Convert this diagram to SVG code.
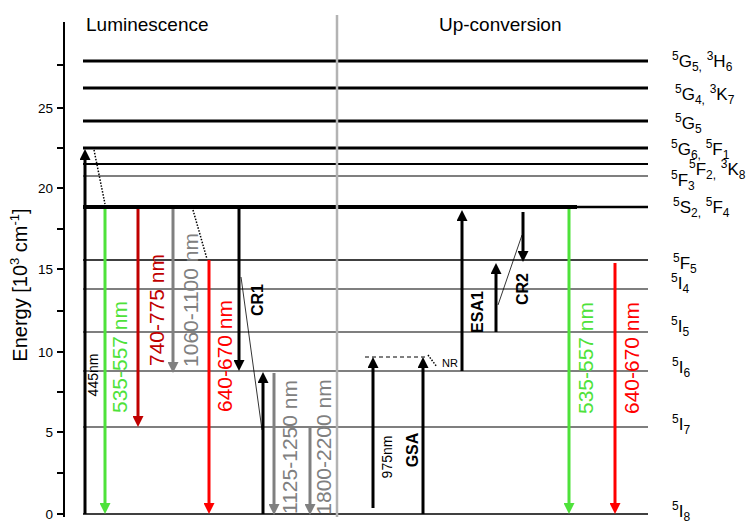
<svg xmlns="http://www.w3.org/2000/svg" width="751" height="525" viewBox="0 0 751 525">
<style>
text{font-family:"Liberation Sans",Arial,sans-serif;}
.lv{stroke:#000;fill:none}
.ax{stroke:#000;stroke-width:2;fill:none}
.tk{font-size:13.5px;text-anchor:end;fill:#000}
.st{font-size:17px;fill:#000}
.sm{font-size:12px}
.rl{font-size:21px;text-anchor:middle}
.bl{font-size:16px;font-weight:bold;text-anchor:middle;fill:#000}
.nm{font-size:14px;text-anchor:middle;fill:#000}
.ar{stroke-width:3;fill:none}
</style>
<defs>
<marker id="hk" markerUnits="userSpaceOnUse" markerWidth="11" markerHeight="11" refX="4" refY="5.5" orient="auto"><path d="M0,0 L11,5.5 L0,11 z" fill="#000"/></marker>
<marker id="hg" markerUnits="userSpaceOnUse" markerWidth="11" markerHeight="11" refX="4" refY="5.5" orient="auto"><path d="M0,0 L11,5.5 L0,11 z" fill="#4ee23a"/></marker>
<marker id="hr" markerUnits="userSpaceOnUse" markerWidth="11" markerHeight="11" refX="4" refY="5.5" orient="auto"><path d="M0,0 L11,5.5 L0,11 z" fill="#ff0000"/></marker>
<marker id="hd" markerUnits="userSpaceOnUse" markerWidth="11" markerHeight="11" refX="4" refY="5.5" orient="auto"><path d="M0,0 L11,5.5 L0,11 z" fill="#c00000"/></marker>
<marker id="hy" markerUnits="userSpaceOnUse" markerWidth="11" markerHeight="11" refX="4" refY="5.5" orient="auto"><path d="M0,0 L11,5.5 L0,11 z" fill="#808080"/></marker>
</defs>

<g id="axis">
<line class="ax" x1="64" y1="22" x2="64" y2="517"/>
<path class="ax" d="M57,514H64M57,473H64M57,432H64M57,392H64M57,352H64M57,311H64M57,269H64M57,229H64M57,188H64M57,148H64M57,108H64M57,65H64"/>
<text class="tk" x="53" y="519">0</text>
<text class="tk" x="53" y="437">5</text>
<text class="tk" x="53" y="357">10</text>
<text class="tk" x="53" y="274">15</text>
<text class="tk" x="53" y="193">20</text>
<text class="tk" x="53" y="113">25</text>
<text transform="translate(27,285) rotate(-90)" font-size="20" text-anchor="middle" fill="#000">Energy [10<tspan font-size="13" dy="-8">3</tspan><tspan dy="8"> cm</tspan><tspan font-size="13" dy="-8">-1</tspan><tspan dy="8">]</tspan></text>
</g>

<g id="titles">
<text x="86" y="31" font-size="19" fill="#000">Luminescence</text>
<text x="439" y="31" font-size="19" fill="#000">Up-conversion</text>
</g>

<g id="levels">
<line class="lv" x1="83" y1="61" x2="648" y2="61" stroke-width="3"/>
<line class="lv" x1="83" y1="88" x2="648" y2="88" stroke-width="3"/>
<line class="lv" x1="83" y1="121" x2="648" y2="121" stroke-width="3"/>
<line class="lv" x1="83" y1="148" x2="648" y2="148" stroke-width="3"/>
<line class="lv" x1="83" y1="164" x2="648" y2="164" stroke-width="2"/>
<line class="lv" x1="83" y1="176" x2="648" y2="176" stroke-width="1.2"/>
<line class="lv" x1="83" y1="207" x2="577" y2="207" stroke-width="4"/>
<line class="lv" x1="577" y1="207" x2="648" y2="207" stroke-width="2.5"/>
<line class="lv" x1="83" y1="260" x2="648" y2="260" stroke-width="1.5" stroke="#555"/>
<line class="lv" x1="83" y1="289" x2="648" y2="289" stroke-width="1.2"/>
<line class="lv" x1="83" y1="332" x2="648" y2="332" stroke-width="1.2" stroke="#333"/>
<line class="lv" x1="83" y1="371" x2="648" y2="371" stroke-width="1.2"/>
<line class="lv" x1="83" y1="427" x2="648" y2="427" stroke-width="1.2" stroke="#333"/>
<line class="lv" x1="83" y1="514" x2="648" y2="514" stroke-width="1.5"/>
</g>

<g id="divider">
<line x1="337" y1="15" x2="337" y2="517" stroke="#b3b3b3" stroke-width="2.5"/>
</g>

<g id="level-labels" class="st">
<text x="672" y="67" class="st"><tspan class="sm" dy="-7">5</tspan><tspan dy="7">G</tspan><tspan class="sm" dy="4">5,</tspan><tspan dy="-4"> </tspan><tspan class="sm" dy="-7">3</tspan><tspan dy="7">H</tspan><tspan class="sm" dy="4">6</tspan></text>
<text x="675" y="100" class="st"><tspan class="sm" dy="-7">5</tspan><tspan dy="7">G</tspan><tspan class="sm" dy="4">4,</tspan><tspan dy="-4"> </tspan><tspan class="sm" dy="-7">3</tspan><tspan dy="7">K</tspan><tspan class="sm" dy="4">7</tspan></text>
<text x="675" y="129" class="st"><tspan class="sm" dy="-7">5</tspan><tspan dy="7">G</tspan><tspan class="sm" dy="4">5</tspan></text>
<text x="671" y="155" class="st"><tspan class="sm" dy="-7">5</tspan><tspan dy="7">G</tspan><tspan class="sm" dy="4">6,</tspan><tspan dy="-4"> </tspan><tspan class="sm" dy="-7">5</tspan><tspan dy="7">F</tspan><tspan class="sm" dy="4">1</tspan></text>
<text x="689" y="175" class="st"><tspan class="sm" dy="-7">5</tspan><tspan dy="7">F</tspan><tspan class="sm" dy="4">2,</tspan><tspan dy="-4"> </tspan><tspan class="sm" dy="-7">3</tspan><tspan dy="7">K</tspan><tspan class="sm" dy="4">8</tspan></text>
<text x="671" y="186" class="st"><tspan class="sm" dy="-7">5</tspan><tspan dy="7">F</tspan><tspan class="sm" dy="4">3</tspan></text>
<text x="673" y="213" class="st"><tspan class="sm" dy="-7">5</tspan><tspan dy="7">S</tspan><tspan class="sm" dy="4">2,</tspan><tspan dy="-4"> </tspan><tspan class="sm" dy="-7">5</tspan><tspan dy="7">F</tspan><tspan class="sm" dy="4">4</tspan></text>
<text x="673" y="269" class="st"><tspan class="sm" dy="-7">5</tspan><tspan dy="7">F</tspan><tspan class="sm" dy="4">5</tspan></text>
<text x="671" y="289" class="st"><tspan class="sm" dy="-7">5</tspan><tspan dy="7">I</tspan><tspan class="sm" dy="4">4</tspan></text>
<text x="671" y="332" class="st"><tspan class="sm" dy="-7">5</tspan><tspan dy="7">I</tspan><tspan class="sm" dy="4">5</tspan></text>
<text x="672" y="373" class="st"><tspan class="sm" dy="-7">5</tspan><tspan dy="7">I</tspan><tspan class="sm" dy="4">6</tspan></text>
<text x="672" y="430" class="st"><tspan class="sm" dy="-7">5</tspan><tspan dy="7">I</tspan><tspan class="sm" dy="4">7</tspan></text>
<text x="672" y="517" class="st"><tspan class="sm" dy="-7">5</tspan><tspan dy="7">I</tspan><tspan class="sm" dy="4">8</tspan></text>
</g>

<g id="connectors">
<line class="ar" x1="85" y1="514" x2="85" y2="156" stroke="#000" marker-end="url(#hk)"/>
<line class="ar" x1="105" y1="209" x2="105" y2="507" stroke="#4ee23a" marker-end="url(#hg)"/>
<line class="ar" x1="138" y1="209" x2="138" y2="420" stroke="#c00000" marker-end="url(#hd)"/>
<line class="ar" x1="173" y1="209" x2="173" y2="366" stroke="#808080" marker-end="url(#hy)"/>
<line class="ar" x1="209" y1="260" x2="209" y2="507" stroke="#ff0000" marker-end="url(#hr)"/>
<line class="ar" x1="239" y1="209" x2="239" y2="364" stroke="#000" marker-end="url(#hk)"/>
<line class="ar" x1="263" y1="514" x2="263" y2="379" stroke="#000" marker-end="url(#hk)"/>
<line class="ar" x1="274" y1="373" x2="274" y2="508" stroke="#808080" marker-end="url(#hy)"/>
<line class="ar" x1="310" y1="427" x2="310" y2="508" stroke="#808080" marker-end="url(#hy)"/>
<line class="ar" x1="373" y1="508" x2="373" y2="364" stroke="#000" marker-end="url(#hk)"/>
<line class="ar" x1="423" y1="514" x2="423" y2="364" stroke="#000" marker-end="url(#hk)"/>
<line class="ar" x1="462" y1="371" x2="462" y2="217" stroke="#000" marker-end="url(#hk)"/>
<line class="ar" x1="496" y1="332" x2="496" y2="270" stroke="#000" marker-end="url(#hk)"/>
<line class="ar" x1="523" y1="212" x2="523" y2="255" stroke="#000" marker-end="url(#hk)"/>
<line class="ar" x1="569" y1="209" x2="569" y2="507" stroke="#4ee23a" marker-end="url(#hg)"/>
<line class="ar" x1="615" y1="263" x2="615" y2="507" stroke="#ff0000" marker-end="url(#hr)"/>
<line x1="94" y1="150" x2="105" y2="204" stroke="#000" stroke-width="1.5" stroke-dasharray="1.5,1.5"/>
<line x1="193" y1="210" x2="207" y2="259" stroke="#000" stroke-width="1.5" stroke-dasharray="1.5,1.5"/>
<line x1="241" y1="277" x2="262" y2="430" stroke="#000" stroke-width="0.8"/>
<line x1="498" y1="305" x2="522" y2="235" stroke="#000" stroke-width="0.8"/>
<line x1="365" y1="357" x2="428" y2="357" stroke="#000" stroke-width="1" stroke-dasharray="4,3"/>
<line x1="428" y1="355" x2="437" y2="367" stroke="#000" stroke-width="1.5" stroke-dasharray="1.5,1.5"/>
</g>

<g id="transition-labels">
<text class="nm" transform="translate(98,375) rotate(-90)">445nm</text>
<text class="rl" fill="#4ee23a" transform="translate(127,357) rotate(-90)">535-557 nm</text>
<text class="rl" fill="#c00000" transform="translate(164,310) rotate(-90)">740-775 nm</text>
<text class="rl" fill="#808080" transform="translate(198,300) rotate(-90)">1060-1100 nm</text>
<text class="rl" fill="#ff0000" transform="translate(232,356) rotate(-90)">640-670 nm</text>
<text class="bl" transform="translate(263,300) rotate(-90)">CR1</text>
<text class="rl" fill="#808080" transform="translate(297,447) rotate(-90)">1125-1250 nm</text>
<text class="rl" fill="#808080" transform="translate(331,447) rotate(-90)">1800-2200 nm</text>
<text class="nm" transform="translate(392,457) rotate(-90)">975nm</text>
<text class="bl" transform="translate(418,450) rotate(-90)">GSA</text>
<text class="bl" transform="translate(483,312) rotate(-90)">ESA1</text>
<text class="bl" transform="translate(528,289) rotate(-90)">CR2</text>
<text class="rl" fill="#4ee23a" transform="translate(593,358) rotate(-90)">535-557 nm</text>
<text class="rl" fill="#ff0000" transform="translate(639,358) rotate(-90)">640-670 nm</text>
<text x="442" y="367" font-size="11" fill="#000">NR</text>
</g>
</svg>
